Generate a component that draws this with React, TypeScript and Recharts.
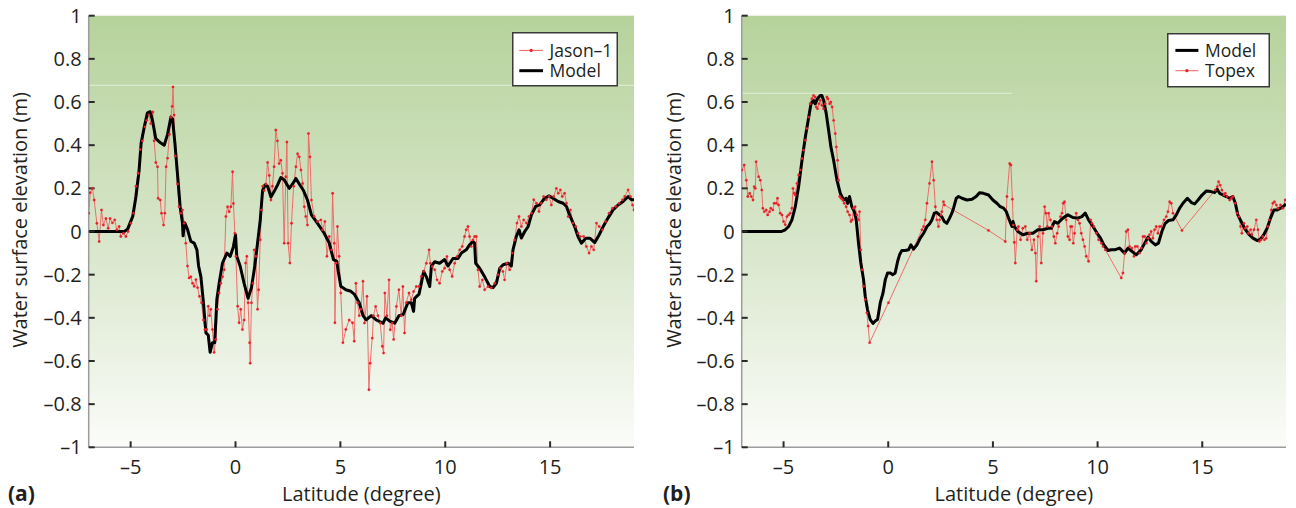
import React from 'react';
import { LineChart, Line, XAxis, YAxis, CartesianGrid, ReferenceLine, Legend } from 'recharts';

// ---------- Panel (a): Jason-1 vs Model ----------
const jasonLat = [
  -7.0, -6.93, -6.82, -6.74, -6.61, -6.5, -6.39, -6.3, -6.18, -6.07, -5.98, -5.87, -5.76, -5.66, -5.55, -5.47, -5.34, -5.23, -5.12, -4.99,
  -4.86, -4.75, -4.64, -4.55, -4.44, -4.32, -4.23, -4.13, -4.04, -3.94, -3.88, -3.8, -3.72, -3.69, -3.59, -3.53, -3.43, -3.37, -3.31, -3.24,
  -3.15, -3.08, -3.02, -2.98, -2.93, -2.87, -2.77, -2.69, -2.61, -2.53, -2.45, -2.37, -2.29, -2.21, -2.13, -2.05, -1.97, -1.89, -1.81, -1.72,
  -1.62, -1.53, -1.46, -1.37, -1.3, -1.24, -1.18, -1.1, -1.02, -0.94, -0.86, -0.78, -0.7, -0.62, -0.54, -0.46, -0.38, -0.3, -0.22, -0.14,
  -0.1, -0.03, 0.02, 0.1, 0.17, 0.25, 0.33, 0.41, 0.48, 0.54, 0.6, 0.67, 0.7, 0.76, 0.83, 0.89, 0.97, 1.05, 1.1, 1.18,
  1.24, 1.3, 1.37, 1.45, 1.53, 1.61, 1.69, 1.76, 1.84, 1.92, 2.0, 2.08, 2.16, 2.24, 2.32, 2.4, 2.45, 2.51, 2.59, 2.67,
  2.77, 2.88, 2.96, 3.04, 3.12, 3.2, 3.28, 3.35, 3.43, 3.48, 3.55, 3.62, 3.75, 3.91, 4.07, 4.15, 4.26, 4.36, 4.47, 4.58,
  4.63, 4.71, 4.74, 4.8, 4.86, 4.94, 5.02, 5.12, 5.26, 5.42, 5.58, 5.66, 5.74, 5.82, 5.9, 5.98, 6.08, 6.15, 6.27, 6.36,
  6.42, 6.52, 6.58, 6.68, 6.79, 6.9, 7.0, 7.06, 7.12, 7.22, 7.32, 7.38, 7.47, 7.54, 7.67, 7.79, 7.9, 7.98, 8.06, 8.14,
  8.27, 8.38, 8.49, 8.62, 8.75, 8.86, 8.97, 9.1, 9.23, 9.29, 9.38, 9.5, 9.61, 9.73, 9.86, 9.97, 10.08, 10.21, 10.33, 10.45,
  10.56, 10.69, 10.81, 10.92, 11.0, 11.08, 11.16, 11.24, 11.32, 11.4, 11.48, 11.56, 11.64, 11.77, 11.88, 12.04, 12.2, 12.36, 12.51, 12.63,
  12.75, 12.83, 12.94, 13.07, 13.2, 13.31, 13.42, 13.52, 13.63, 13.74, 13.87, 13.99, 14.11, 14.22, 14.35, 14.47, 14.58, 14.69, 14.82, 14.95,
  15.06, 15.17, 15.3, 15.39, 15.49, 15.58, 15.69, 15.78, 15.86, 15.97, 16.09, 16.22, 16.33, 16.44, 16.6, 16.73, 16.86, 16.97, 17.08, 17.21,
  17.34, 17.49, 17.65, 17.81, 17.97, 18.13, 18.29, 18.45, 18.56, 18.72, 18.83, 18.93, 19.0,
];
const jasonElev = [
  0.085, 0.18, 0.2, 0.146, 0.038, -0.046, 0.1, 0.03, 0.06, 0.015, 0.06, 0.04, 0.054, 0.008, 0.023, -0.023, -0.008, -0.023, 0, 0.038,
  0.085, 0.21, 0.27, 0.38, 0.42, 0.485, 0.515, 0.54, 0.5, 0.554, 0.42, 0.32, 0.3, 0.154, 0.146, 0.085, 0.03, 0.085, 0.3, 0.34,
  0.45, 0.53, 0.58, 0.67, 0.54, 0.35, 0.22, 0.115, 0.085, 0.1, 0.038, -0.054, -0.16, -0.215, -0.21, -0.24, -0.254, -0.223, -0.26, -0.3,
  -0.33, -0.41, -0.454, -0.454, -0.346, -0.39, -0.36, -0.454, -0.56, -0.5, -0.36, -0.285, -0.24, -0.21, -0.177, 0.07, 0.115, 0.092, 0.115, 0.277,
  0.13, -0.008, -0.115, -0.346, -0.423, -0.36, -0.454, -0.41, -0.146, -0.115, -0.33, -0.515, -0.61, -0.33, -0.24, -0.085, -0.115, -0.36, -0.27, -0.038,
  0.1, 0.21, 0.19, 0.22, 0.32, 0.26, 0.146, 0.21, 0.3, 0.47, 0.42, 0.315, 0.33, 0.27, -0.054, 0.254, 0.415, -0.054, -0.146, 0.038,
  0.21, 0.3, 0.36, 0.346, 0.285, 0.223, 0.115, 0.07, 0.03, 0.454, 0.346, 0.146, 0.07, 0.046, 0.054, 0.008, 0.046, -0.115, -0.023, -0.085,
  0.177, -0.054, -0.423, -0.146, 0.023, -0.115, -0.285, -0.515, -0.454, -0.41, -0.423, -0.508, -0.24, -0.33, -0.39, -0.36, -0.23, -0.424, -0.3, -0.733,
  -0.61, -0.494, -0.39, -0.347, -0.39, -0.424, -0.532, -0.563, -0.285, -0.39, -0.224, -0.455, -0.424, -0.5, -0.347, -0.27, -0.39, -0.255, -0.47, -0.33,
  -0.285, -0.316, -0.278, -0.255, -0.255, -0.208, -0.185, -0.147, -0.085, -0.147, -0.162, -0.177, -0.224, -0.24, -0.185, -0.17, -0.116, -0.177, -0.208, -0.147,
  -0.116, -0.085, -0.069, -0.023, 0.008, 0.023, -0.023, -0.069, -0.039, -0.023, -0.023, -0.177, -0.255, -0.224, -0.27, -0.255, -0.262, -0.24, -0.2, -0.17,
  -0.185, -0.224, -0.147, -0.177, -0.1, -0.039, 0.039, 0.07, 0.023, 0.054, 0.039, 0.07, 0.085, 0.147, 0.131, 0.093, 0.131, 0.162, 0.147, 0.162,
  0.123, 0.162, 0.2, 0.177, 0.193, 0.162, 0.177, 0.131, 0.069, 0.1, 0.039, 0.023, -0.008, -0.023, -0.023, -0.069, -0.1, -0.069, -0.085, 0.039,
  0.023, 0.008, 0.046, 0.085, 0.108, 0.116, 0.131, 0.147, 0.162, 0.193, 0.162, 0.123, 0.1,
];

const modelALat = [
  -7, -5.3, -5.15, -4.9, -4.75, -4.6, -4.5, -4.36, -4.2, -4.07, -3.96, -3.8, -3.56, -3.4, -3.24, -3.08, -3.0, -2.89, -2.77, -2.64,
  -2.53, -2.5, -2.42, -2.29, -2.13, -1.97, -1.84, -1.76, -1.65, -1.53, -1.41, -1.3, -1.21, -1.1, -0.99, -0.89, -0.78, -0.62, -0.41, -0.25,
  -0.1, 0, 0.06, 0.22, 0.41, 0.6, 0.76, 0.92, 1.05, 1.18, 1.29, 1.4, 1.53, 1.69, 1.84, 2.0, 2.16, 2.32, 2.56, 2.72,
  2.88, 3.04, 3.24, 3.43, 3.62, 3.91, 4.23, 4.47, 4.67, 4.83, 4.9, 5.02, 5.26, 5.5, 5.66, 5.9, 6.08, 6.23, 6.47, 6.71,
  7.03, 7.16, 7.35, 7.59, 7.79, 7.99, 8.22, 8.38, 8.49, 8.54, 8.75, 8.86, 8.97, 9.1, 9.26, 9.34, 9.5, 9.73, 9.97, 10.13,
  10.37, 10.61, 10.77, 11.0, 11.16, 11.32, 11.4, 11.45, 11.64, 11.88, 12.12, 12.28, 12.44, 12.6, 12.76, 13.0, 13.15, 13.23, 13.39, 13.52,
  13.63, 13.79, 13.95, 14.11, 14.31, 14.5, 14.74, 14.95, 15.14, 15.38, 15.62, 15.78, 15.93, 16.17, 16.33, 16.49, 16.7, 16.89, 17.13, 17.34,
  17.53, 17.76, 18.0, 18.24, 18.48, 18.72, 18.88, 19.0,
];
const modelAElev = [
  0, 0, 0.01, 0.07, 0.16, 0.28, 0.41, 0.48, 0.55, 0.555, 0.515, 0.43, 0.41, 0.4, 0.45, 0.53, 0.52, 0.41, 0.27, 0.115,
  0.04, -0.02, 0.04, 0.01, -0.046, -0.054, -0.085, -0.16, -0.21, -0.33, -0.47, -0.48, -0.56, -0.515, -0.515, -0.315, -0.24, -0.146, -0.1, -0.115,
  -0.07, -0.015, -0.115, -0.16, -0.24, -0.31, -0.26, -0.16, -0.054, 0.054, 0.19, 0.215, 0.21, 0.16, 0.185, 0.215, 0.25, 0.24, 0.2, 0.22,
  0.246, 0.22, 0.19, 0.146, 0.077, 0.038, -0.008, -0.054, -0.13, -0.138, -0.185, -0.254, -0.27, -0.277, -0.29, -0.33, -0.39, -0.41, -0.39, -0.41,
  -0.425, -0.4, -0.415, -0.425, -0.39, -0.385, -0.33, -0.33, -0.37, -0.31, -0.29, -0.24, -0.185, -0.21, -0.255, -0.16, -0.14, -0.147, -0.13, -0.16,
  -0.125, -0.125, -0.1, -0.085, -0.062, -0.046, -0.054, -0.147, -0.17, -0.21, -0.255, -0.26, -0.24, -0.17, -0.154, -0.147, -0.16, -0.085, -0.023, 0.008,
  -0.03, 0.0, 0.023, 0.077, 0.116, 0.123, 0.154, 0.165, 0.154, 0.139, 0.131, 0.116, 0.077, 0.023, -0.023, -0.054, -0.031, -0.031, -0.051, -0.015,
  0.023, 0.062, 0.1, 0.123, 0.139, 0.162, 0.147, 0.147,
];

// ---------- Panel (b): Model vs Topex ----------
const modelBLat = [
  -7, -5.1, -4.92, -4.76, -4.6, -4.44, -4.28, -4.12, -3.96, -3.8, -3.69, -3.57, -3.49, -3.38, -3.25, -3.17, -3.09, -2.96, -2.85, -2.74,
  -2.61, -2.45, -2.29, -2.13, -2.01, -1.94, -1.85, -1.74, -1.62, -1.53, -1.42, -1.31, -1.18, -1.1, -0.99, -0.86, -0.73, -0.62, -0.51, -0.38,
  -0.25, -0.14, -0.03, 0.1, 0.22, 0.33, 0.45, 0.54, 0.65, 0.81, 0.97, 1.08, 1.21, 1.37, 1.53, 1.69, 1.85, 1.97, 2.09, 2.2,
  2.32, 2.45, 2.56, 2.68, 2.8, 2.93, 3.04, 3.12, 3.25, 3.36, 3.52, 3.76, 4.0, 4.2, 4.36, 4.55, 4.79, 5.0, 5.19, 5.35,
  5.51, 5.64, 5.75, 5.91, 5.96, 6.03, 6.19, 6.43, 6.67, 6.91, 7.15, 7.39, 7.63, 7.79, 7.94, 8.1, 8.34, 8.58, 8.82, 9.06,
  9.25, 9.41, 9.57, 9.78, 9.98, 10.14, 10.3, 10.5, 10.65, 10.81, 11.05, 11.29, 11.45, 11.64, 11.85, 12.08, 12.25, 12.41, 12.56, 12.76,
  12.91, 13.07, 13.23, 13.39, 13.6, 13.76, 13.92, 14.08, 14.29, 14.48, 14.64, 14.8, 14.99, 15.2, 15.41, 15.59, 15.72, 15.83, 15.99, 16.15,
  16.31, 16.46, 16.58, 16.7, 16.86, 17.02, 17.21, 17.42, 17.63, 17.78, 17.94, 18.1, 18.26, 18.42, 18.58, 18.74, 18.9, 19.0,
];
const modelBElev = [
  0, 0, 0.008, 0.023, 0.054, 0.115, 0.208, 0.33, 0.438, 0.53, 0.592, 0.608, 0.592, 0.615, 0.63, 0.63, 0.608, 0.546, 0.47, 0.392,
  0.33, 0.238, 0.177, 0.146, 0.154, 0.13, 0.162, 0.115, 0.092, 0.054, -0.054, -0.146, -0.223, -0.3, -0.362, -0.408, -0.426, -0.415, -0.408, -0.33,
  -0.285, -0.223, -0.192, -0.192, -0.2, -0.192, -0.138, -0.108, -0.088, -0.088, -0.085, -0.062, -0.082, -0.062, -0.031, -0.008, 0.023, 0.035, 0.054, 0.085,
  0.088, 0.077, 0.069, 0.046, 0.038, 0.062, 0.085, 0.108, 0.154, 0.162, 0.154, 0.146, 0.149, 0.162, 0.18, 0.177, 0.169, 0.146, 0.131, 0.115,
  0.108, 0.092, 0.062, 0.023, 0.046, 0.023, 0, -0.015, -0.008, -0.008, 0.008, 0.008, 0.015, 0.015, 0.046, 0.038, 0.062, 0.077, 0.065, 0.062,
  0.069, 0.085, 0.054, 0.023, -0.008, -0.031, -0.062, -0.088, -0.085, -0.085, -0.077, -0.1, -0.077, -0.092, -0.108, -0.085, -0.054, -0.026, -0.046, -0.062,
  -0.054, 0, 0.038, 0.051, 0.054, 0.077, 0.108, 0.131, 0.154, 0.134, 0.128, 0.146, 0.169, 0.188, 0.185, 0.18, 0.195, 0.177, 0.169, 0.162,
  0.154, 0.162, 0.131, 0.077, 0.046, 0.015, -0.011, -0.031, -0.042, -0.035, -0.015, 0.015, 0.062, 0.1, 0.1, 0.108, 0.118, 0.128,
];

const topexLat = [
  -6.99, -6.88, -6.78, -6.71, -6.62, -6.54, -6.46, -6.4, -6.35, -6.31, -6.19, -6.11, -6.04, -5.99, -5.92, -5.83, -5.76, -5.67, -5.61, -5.51,
  -5.45, -5.35, -5.29, -5.24, -5.16, -5.08, -5.0, -4.92, -4.84, -4.76, -4.68, -4.6, -4.55, -4.49, -4.44, -4.36, -4.28, -4.2, -4.12, -4.04,
  -3.96, -3.89, -3.8, -3.73, -3.65, -3.57, -3.49, -3.44, -3.38, -3.31, -3.25, -3.17, -3.09, -3.01, -2.93, -2.88, -2.8, -2.74, -2.68, -2.61,
  -2.53, -2.48, -2.42, -2.37, -2.32, -2.25, -2.17, -2.1, -2.01, -1.94, -1.85, -1.78, -1.72, -1.66, -1.58, -1.5, -1.42, -1.37, -1.31, -1.24,
  -1.18, -1.1, -1.02, -0.96, -0.89, 0.01, 1.61, 1.69, 1.77, 1.85, 1.97, 2.09, 2.17, 2.25, 2.32, 2.4, 2.45, 2.52, 2.56, 2.64,
  2.68, 4.79, 5.59, 5.67, 5.8, 5.86, 5.93, 5.97, 6.02, 6.07, 6.16, 6.22, 6.32, 6.43, 6.55, 6.64, 6.75, 6.86, 6.96, 7.03,
  7.07, 7.15, 7.23, 7.31, 7.39, 7.47, 7.53, 7.6, 7.66, 7.75, 7.82, 7.91, 7.98, 8.07, 8.14, 8.23, 8.3, 8.36, 8.42, 8.5,
  8.58, 8.66, 8.71, 8.77, 8.84, 8.9, 8.98, 9.06, 9.14, 9.22, 9.3, 9.38, 9.46, 9.57, 9.67, 9.73, 9.82, 9.94, 10.05, 10.18,
  10.26, 10.37, 11.13, 11.21, 11.29, 11.37, 11.45, 11.53, 11.64, 11.74, 11.8, 11.9, 12.01, 12.09, 12.17, 12.25, 12.33, 12.41, 12.48, 12.56,
  12.64, 12.72, 12.8, 12.88, 12.96, 13.04, 13.17, 13.28, 13.36, 13.44, 13.52, 13.6, 14.03, 15.62, 15.72, 15.78, 15.86, 15.94, 16.04, 16.1,
  16.19, 16.31, 16.39, 16.46, 16.58, 16.67, 16.75, 16.83, 16.89, 16.99, 17.05, 17.15, 17.21, 17.31, 17.37, 17.47, 17.58, 17.66, 17.73, 17.81,
  17.89, 17.97, 18.05, 18.13, 18.2, 18.3, 18.37, 18.45, 18.54, 18.61, 18.74, 18.85, 18.96,
];
const topexElev = [
  0.285, 0.308, 0.238, 0.162, 0.177, 0.162, 0.146, 0.208, 0.2, 0.323, 0.254, 0.238, 0.192, 0.108, 0.092, 0.1, 0.077, 0.092, 0.108, 0.1,
  0.131, 0.131, 0.154, 0.123, 0.085, 0.077, 0.046, 0.031, 0.069, 0.077, 0.085, 0.108, 0.2, 0.177, 0.169, 0.223, 0.262, 0.285, 0.338, 0.377,
  0.423, 0.477, 0.53, 0.592, 0.615, 0.63, 0.623, 0.577, 0.569, 0.592, 0.608, 0.585, 0.569, 0.592, 0.623, 0.615, 0.592, 0.6, 0.577, 0.515,
  0.454, 0.392, 0.33, 0.238, 0.162, 0.154, 0.146, 0.131, 0.115, 0.092, 0.077, 0.046, 0.054, 0.108, 0.115, 0.077, 0.054, 0.092, -0.085, -0.177,
  -0.254, -0.315, -0.377, -0.438, -0.515, -0.33, 0.008, 0.023, 0.054, 0.131, 0.223, 0.323, 0.238, 0.115, 0.054, 0.023, 0.054, 0.077, 0.092, 0.138,
  0.123, 0.005, -0.046, 0.162, 0.315, 0.308, 0.15, 0.03, -0.05, -0.146, 0.008, 0.023, -0.038, 0.015, 0.023, -0.038, -0.008, -0.085, -0.038, -0.1,
  -0.23, -0.023, 0.023, -0.146, -0.008, 0.115, 0.085, 0.023, 0.085, 0.054, 0.023, -0.023, -0.054, -0.008, 0.023, 0.069, 0.085, 0.131, 0.138, 0.054,
  -0.023, -0.038, 0.023, 0.023, -0.054, -0.008, 0.085, 0.054, 0.038, -0.008, -0.038, -0.069, -0.115, -0.138, 0.054, 0.038, 0.023, -0.008, -0.038, -0.054,
  -0.069, -0.085, -0.215, -0.192, -0.1, 0, 0.008, -0.069, -0.077, -0.115, -0.069, -0.069, -0.1, -0.077, -0.023, -0.023, -0.054, -0.031, -0.015, 0,
  -0.031, 0.008, 0.023, -0.008, 0.023, 0.023, 0.054, 0.069, 0.092, 0.138, 0.131, 0.085, 0.005, 0.192, 0.208, 0.231, 0.215, 0.192, 0.169, 0.177,
  0.162, 0.146, 0.154, 0.162, 0.131, 0.085, 0.069, 0.023, -0.008, 0.038, 0.015, 0.023, -0.008, 0.008, -0.015, 0.008, 0.054, 0.008, -0.046, -0.038,
  -0.023, -0.038, -0.031, 0.023, 0.054, 0.1, 0.131, 0.138, 0.123, 0.108, 0.123, 0.108, 0.146,
];

const xTicks = [-5, 0, 5, 10, 15];
const yTicks = [-1, -0.8, -0.6, -0.4, -0.2, 0, 0.2, 0.4, 0.6, 0.8, 1];
const xDomain = [-7, 19];
const yDomain = [-1, 1];

const zip = (xs: number[], ys: number[]) => xs.map((x, i) => ({ lat: x, elev: ys[i] }));
const jasonData = zip(jasonLat, jasonElev);
const modelAData = zip(modelALat, modelAElev);
const modelBData = zip(modelBLat, modelBElev);
const topexData = zip(topexLat, topexElev);

const FONT = "'Open Sans', 'DejaVu Sans', sans-serif";
const TXT = '#231f20';
const RED_LINE = '#f0605f';
const RED_DOT = '#e8202a';
const fmt = (v: number) => (v < 0 ? '\u2013' + String(Math.abs(v)) : String(v));

type Entry = { name: string; kind: 'red' | 'black' };

function LegendBox({ entries, w, h, rowY, lineX0, lineX1, textX }: { entries: Entry[]; w: number; h: number; rowY: number[]; lineX0: number; lineX1: number; textX: number }) {
  return (
    <svg width={w} height={h} style={{ display: 'block' }}>
      <rect x={0.75} y={0.75} width={w - 1.5} height={h - 1.5} fill="#ffffff" stroke="#3a3a3a" strokeWidth={1.5} />
      {entries.map((e, i) => (
        <g key={e.name}>
          {e.kind === 'black' ? (
            <line x1={lineX0} x2={lineX1} y1={rowY[i]} y2={rowY[i]} stroke="#000" strokeWidth={3} />
          ) : (
            <g>
              <line x1={lineX0} x2={lineX1} y1={rowY[i]} y2={rowY[i]} stroke={RED_LINE} strokeWidth={1} />
              <circle cx={(lineX0 + lineX1) / 2} cy={rowY[i]} r={1.6} fill={RED_DOT} />
            </g>
          )}
          <text x={textX} y={rowY[i]} dy="0.36em" fontFamily={FONT} fontSize={17.5} fill={TXT}>
            {e.name}
          </text>
        </g>
      ))}
    </svg>
  );
}

type PanelProps = {
  left: number;
  width: number;
  yAxisWidth: number;
  marginRight: number;
  gradId: string;
  letter: string;
  letterX: number;
  yLabelX: number;
  red: { name: string; data: { lat: number; elev: number }[] };
  model: { lat: number; elev: number }[];
  legendEntries: Entry[];
  legendPos: { left: number; top: number; w: number; h: number; rowY: number[]; lineX0: number; lineX1: number; textX: number };
  faint: { y: number; x0: number; x1: number };
};

function Panel(p: PanelProps) {
  const H = 508;
  const tickStyle = { fontFamily: FONT, fontSize: 20, fill: TXT };
  return (
    <div style={{ position: 'absolute', left: p.left, top: 0, width: p.width, height: H }}>
      <LineChart width={p.width} height={H} margin={{ top: 15.7, right: p.marginRight, bottom: 0, left: 0 }}>
        <defs>
          <linearGradient id={p.gradId} x1="0" y1="0" x2="0" y2="1">
            <stop offset="0%" stopColor="#b6d29b" />
            <stop offset="50%" stopColor="#d6e5c8" />
            <stop offset="100%" stopColor="#fbfcf9" />
          </linearGradient>
        </defs>
        <CartesianGrid horizontal={false} vertical={false} fill={`url(#${p.gradId})`} fillOpacity={1} />
        <XAxis
          dataKey="lat"
          type="number"
          domain={xDomain}
          ticks={xTicks}
          allowDataOverflow
          height={60.7}
          tickSize={-6}
          tickMargin={18}
          tickFormatter={fmt}
          tick={tickStyle}
          tickLine={{ stroke: '#2a2a2a', strokeWidth: 2 }}
          axisLine={{ stroke: '#9c9c9c', strokeWidth: 1.5 }}
          label={{
            content: (lp: any) => {
              const vb = lp.viewBox || { x: 0, y: 0, width: 0 };
              return (
                <g>
                  <text x={vb.x + vb.width / 2} y={501} textAnchor="middle" fontFamily={FONT} fontSize={20} fill={TXT}>
                    Latitude (degree)
                  </text>
                  <text x={p.letterX} y={501} fontFamily={FONT} fontSize={21} fontWeight={700} fill={TXT}>
                    {p.letter}
                  </text>
                </g>
              );
            },
          }}
        />
        <XAxis xAxisId="top" orientation="top" type="number" domain={xDomain} height={0} tick={false} tickLine={false} axisLine={{ stroke: '#9c9c9c', strokeWidth: 1.5 }} />
        <YAxis
          type="number"
          domain={yDomain}
          ticks={yTicks}
          allowDataOverflow
          width={p.yAxisWidth}
          tickSize={-6}
          tickMargin={13}
          tickFormatter={fmt}
          tick={tickStyle}
          tickLine={{ stroke: '#2a2a2a', strokeWidth: 2 }}
          axisLine={{ stroke: '#9c9c9c', strokeWidth: 1.5 }}
          label={{
            content: () => (
              <text
                x={p.yLabelX}
                y={220}
                transform={`rotate(-90 ${p.yLabelX} 220)`}
                textAnchor="middle"
                fontFamily={FONT}
                fontSize={20}
                fill={TXT}
              >
                Water surface elevation (m)
              </text>
            ),
          }}
        />
        <YAxis yAxisId="right" orientation="right" type="number" domain={yDomain} width={0} tick={false} tickLine={false} axisLine={{ stroke: '#9c9c9c', strokeWidth: 1.5 }} />
        <ReferenceLine
          segment={[{ x: p.faint.x0, y: p.faint.y }, { x: p.faint.x1, y: p.faint.y }]}
          stroke="#dbe9ce"
          strokeWidth={1.2}
        />
        <Line
          data={p.red.data}
          dataKey="elev"
          name={p.red.name}
          type="linear"
          stroke={RED_LINE}
          strokeWidth={0.9}
          dot={{ r: 1.2, fill: RED_DOT, stroke: RED_DOT, strokeWidth: 0.3 }}
          isAnimationActive={false}
        />
        <Line
          data={p.model}
          dataKey="elev"
          name="Model"
          type="linear"
          stroke="#000000"
          strokeWidth={3}
          strokeLinejoin="round"
          dot={false}
          isAnimationActive={false}
        />
        <Legend
          layout="horizontal"
          verticalAlign="middle"
          align="center"
          wrapperStyle={{ left: p.legendPos.left, top: p.legendPos.top, width: p.legendPos.w, height: p.legendPos.h }}
          content={() => (
            <LegendBox
              entries={p.legendEntries}
              w={p.legendPos.w}
              h={p.legendPos.h}
              rowY={p.legendPos.rowY}
              lineX0={p.legendPos.lineX0}
              lineX1={p.legendPos.lineX1}
              textX={p.legendPos.textX}
            />
          )}
        />
      </LineChart>
    </div>
  );
}

export default function App() {
  return (
    <div style={{ position: 'relative', width: 1296, height: 508, fontFamily: FONT, overflow: 'hidden' }}>
      <style>{'html, body { margin: 0; padding: 0; overflow: hidden; }'}</style>
      <Panel
        left={0}
        width={648}
        yAxisWidth={88.7}
        marginRight={14}
        gradId="bgA"
        letter="(a)"
        letterX={8}
        yLabelX={26.5}
        red={{ name: 'Jason\u20131', data: jasonData }}
        model={modelAData}
        legendEntries={[
          { name: 'Jason\u20131', kind: 'red' },
          { name: 'Model', kind: 'black' },
        ]}
        legendPos={{ left: 511.7, top: 32.3, w: 106, h: 54.5, rowY: [18.4, 38.7], lineX0: 7.3, lineX1: 31, textX: 37.6 }}
        faint={{ y: 0.677, x0: -7, x1: 19 }}
      />
      <Panel
        left={648}
        width={648}
        yAxisWidth={93.7}
        marginRight={10}
        gradId="bgB"
        letter="(b)"
        letterX={15}
        yLabelX={32.7}
        red={{ name: 'Topex', data: topexData }}
        model={modelBData}
        legendEntries={[
          { name: 'Model', kind: 'black' },
          { name: 'Topex', kind: 'red' },
        ]}
        legendPos={{ left: 519.3, top: 33.3, w: 103, h: 54.5, rowY: [17.4, 37.7], lineX0: 8.4, lineX1: 31.4, textX: 38 }}
        faint={{ y: 0.64, x0: -7, x1: 5.9 }}
      />
    </div>
  );
}
